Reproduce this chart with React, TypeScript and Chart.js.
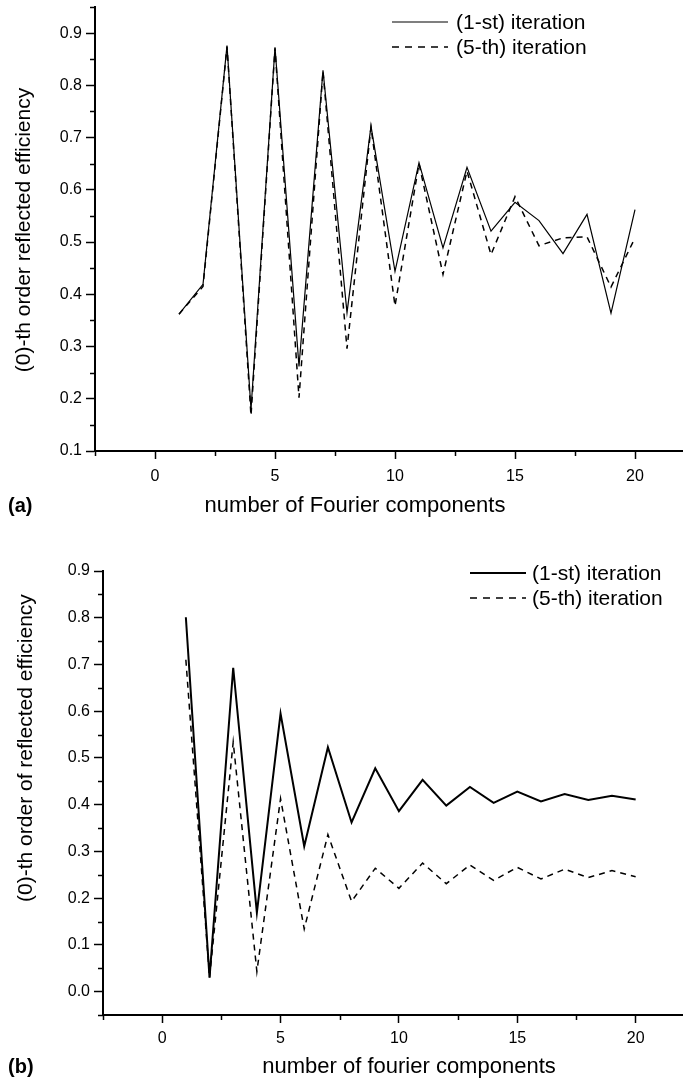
import React, { useEffect, useRef } from "react";
import { Chart, registerables } from "chart.js";

Chart.register(...registerables);

// ---------- data ----------
const components = [1, 2, 3, 4, 5, 6, 7, 8, 9, 10, 11, 12, 13, 14, 15, 16, 17, 18, 19, 20];

const topFirst = [0.362, 0.419, 0.876, 0.18, 0.873, 0.262, 0.829, 0.365, 0.722, 0.444, 0.652, 0.489, 0.643, 0.521, 0.576, 0.541, 0.478, 0.553, 0.364, 0.562];
const topFifth = [0.362, 0.415, 0.874, 0.168, 0.871, 0.202, 0.827, 0.296, 0.72, 0.378, 0.65, 0.438, 0.636, 0.476, 0.587, 0.493, 0.508, 0.51, 0.414, 0.508];

const bottomFirst = [0.801, 0.03, 0.693, 0.169, 0.595, 0.311, 0.523, 0.362, 0.478, 0.386, 0.453, 0.398, 0.438, 0.404, 0.428, 0.407, 0.423, 0.41, 0.419, 0.411];
const bottomFifth = [0.71, 0.03, 0.534, 0.043, 0.413, 0.134, 0.336, 0.193, 0.264, 0.221, 0.275, 0.231, 0.271, 0.238, 0.266, 0.241, 0.262, 0.244, 0.259, 0.246];

const seriesLabels = ["(1-st) iteration", "(5-th) iteration"];
const xTickLabels = [0, 5, 10, 15, 20];
const yTickLabelsTop = ["0.1", "0.2", "0.3", "0.4", "0.5", "0.6", "0.7", "0.8", "0.9"];
const yTickLabelsBottom = ["0.0", "0.1", "0.2", "0.3", "0.4", "0.5", "0.6", "0.7", "0.8", "0.9"];

const FONT = "'Liberation Sans', Arial, Helvetica, sans-serif";

const near = (a: number, b: number) => Math.abs(a - b) < 1e-6;
const isXMajor = (v: number) => xTickLabels.some((t) => near(t, v));
const yLabelFor = (v: number, list: string[]) => list.find((t) => near(parseFloat(t), v));

const decorPlugin = {
  id: "decor",
  afterDraw(chart: any, _args: any, opts: any) {
    const ctx = chart.ctx;
    const { left, bottom } = chart.chartArea;
    const xs = chart.scales.x;
    const ys = chart.scales.y;
    ctx.save();
    ctx.strokeStyle = "#000";
    ctx.lineWidth = 1.5;
    // minor ticks
    xs.ticks.forEach((t: any) => {
      if (!isXMajor(t.value)) {
        const px = Math.round(xs.getPixelForValue(t.value)) + 0.5;
        ctx.beginPath();
        ctx.moveTo(px, bottom);
        ctx.lineTo(px, bottom + 5);
        ctx.stroke();
      }
    });
    ys.ticks.forEach((t: any) => {
      if (!yLabelFor(t.value, opts.yLabels)) {
        const py = Math.round(ys.getPixelForValue(t.value)) + 0.5;
        ctx.beginPath();
        ctx.moveTo(left - 5, py);
        ctx.lineTo(left, py);
        ctx.stroke();
      }
    });
    // legend
    const L = opts.legend;
    chart.data.datasets.forEach((ds: any, i: number) => {
      const y = L.y + i * L.rowH;
      ctx.setLineDash(ds.borderDash ? [7, 6] : []);
      ctx.lineWidth = ds.borderWidth;
      ctx.strokeStyle = ds.borderColor;
      ctx.beginPath();
      ctx.moveTo(L.x, y);
      ctx.lineTo(L.x + L.lineLen, y);
      ctx.stroke();
      ctx.setLineDash([]);
      ctx.font = L.font;
      ctx.textBaseline = "middle";
      ctx.textAlign = "left";
      ctx.fillStyle = "#000";
      ctx.fillText(ds.label, L.x + L.lineLen + L.gap, y + 1);
    });
    ctx.restore();
  },
};

type PanelProps = {
  first: number[];
  fifth: number[];
  yMin: number;
  yMax: number;
  yLabels: string[];
  height: number;
  areaTop: number;
  areaBottom: number;
  areaLeft: number;
  solidWidth: number;
  dashWidth: number;
  legend: any;
  labelPad: number;
};

function Panel(p: PanelProps) {
  const ref = useRef<HTMLCanvasElement | null>(null);
  useEffect(() => {
    if (!ref.current) return;
    const chart = new Chart(ref.current, {
      type: "line",
      data: {
        datasets: [
          {
            label: seriesLabels[0],
            data: components.map((x, i) => ({ x, y: p.first[i] })),
            borderColor: "#000",
            borderWidth: p.solidWidth,
            pointRadius: 0,
            tension: 0,
            fill: false,
          },
          {
            label: seriesLabels[1],
            data: components.map((x, i) => ({ x, y: p.fifth[i] })),
            borderColor: "#000",
            borderWidth: p.dashWidth,
            borderDash: [6, 5],
            pointRadius: 0,
            tension: 0,
            fill: false,
          },
        ],
      },
      options: {
        responsive: false,
        animation: false,
        devicePixelRatio: 1,
        layout: { padding: { top: p.areaTop, left: 0, right: 0, bottom: 0 } },
        plugins: {
          legend: { display: false },
          tooltip: { enabled: false },
          decor: { yLabels: p.yLabels, legend: p.legend },
        } as any,
        scales: {
          x: {
            type: "linear",
            min: -2.5,
            max: 22,
            border: { display: true, color: "#000", width: 2 },
            grid: {
              drawOnChartArea: false,
              drawTicks: true,
              tickLength: 8,
              tickWidth: 1.5,
              tickColor: (c: any) => (c.tick && isXMajor(c.tick.value) ? "#000" : "rgba(0,0,0,0)"),
            },
            ticks: {
              stepSize: 2.5,
              includeBounds: false,
              autoSkip: false,
              maxRotation: 0,
              padding: p.labelPad,
              color: "#000",
              font: { family: FONT, size: 16 },
              callback: (v: any) => (isXMajor(Number(v)) ? String(Math.round(Number(v))) : ""),
            },
            afterFit: (s: any) => {
              s.height = p.height - p.areaBottom;
              s.paddingLeft = 0;
              s.paddingRight = 0;
            },
          },
          y: {
            type: "linear",
            min: p.yMin,
            max: p.yMax,
            border: { display: true, color: "#000", width: 2 },
            grid: {
              drawOnChartArea: false,
              drawTicks: true,
              tickLength: 9,
              tickWidth: 1.5,
              tickColor: (c: any) => (c.tick && yLabelFor(c.tick.value, p.yLabels) ? "#000" : "rgba(0,0,0,0)"),
            },
            ticks: {
              stepSize: 0.05,
              includeBounds: false,
              autoSkip: false,
              padding: 4,
              color: "#000",
              font: { family: FONT, size: 16 },
              callback: (v: any) => yLabelFor(Number(v), p.yLabels) || "",
            },
            afterFit: (s: any) => {
              s.width = p.areaLeft;
              s.paddingTop = 0;
              s.paddingBottom = 0;
            },
          },
        },
      },
      plugins: [decorPlugin as any],
    });
    return () => chart.destroy();
  }, []);
  return <canvas ref={ref} width={683} height={p.height} style={{ display: "block" }} />;
}

const textBase: React.CSSProperties = {
  position: "absolute",
  fontFamily: FONT,
  color: "#000",
  whiteSpace: "nowrap",
  lineHeight: 1,
};

export default function App() {
  return (
    <div style={{ position: "absolute", left: 0, top: 0, width: 683, height: 1088, background: "#fff", overflow: "hidden" }}>
      <div style={{ position: "absolute", left: 0, top: 0 }}>
        <Panel
          first={topFirst}
          fifth={topFifth}
          yMin={0.1}
          yMax={0.95}
          yLabels={yTickLabelsTop}
          height={540}
          areaTop={7}
          areaBottom={451}
          areaLeft={95}
          solidWidth={1.2}
          dashWidth={1.5}
          labelPad={8}
          legend={{ x: 392, y: 22, rowH: 25, lineLen: 56, gap: 8, font: `21px ${FONT}` }}
        />
      </div>
      <div style={{ position: "absolute", left: 0, top: 540 }}>
        <Panel
          first={bottomFirst}
          fifth={bottomFifth}
          yMin={-0.05}
          yMax={0.9}
          yLabels={yTickLabelsBottom}
          height={548}
          areaTop={31}
          areaBottom={475}
          areaLeft={103}
          solidWidth={2}
          dashWidth={1.5}
          labelPad={6}
          legend={{ x: 470, y: 33, rowH: 25, lineLen: 56, gap: 6, font: `21px ${FONT}` }}
        />
      </div>
      {/* axis titles */}
      <div style={{ ...textBase, left: 22, top: 230, fontSize: 21, transform: "translate(-50%, -50%) rotate(-90deg)" }}>
        (0)-th order reflected efficiency
      </div>
      <div style={{ ...textBase, left: 355, top: 505, fontSize: 22, transform: "translate(-50%, -50%)" }}>
        number of Fourier components
      </div>
      <div style={{ ...textBase, left: 8, top: 505, fontSize: 20, fontWeight: "bold", transform: "translateY(-50%)" }}>
        (a)
      </div>
      <div style={{ ...textBase, left: 24, top: 748, fontSize: 21, transform: "translate(-50%, -50%) rotate(-90deg)" }}>
        (0)-th order of reflected efficiency
      </div>
      <div style={{ ...textBase, left: 409, top: 1066, fontSize: 22, transform: "translate(-50%, -50%)" }}>
        number of fourier components
      </div>
      <div style={{ ...textBase, left: 8, top: 1066, fontSize: 20, fontWeight: "bold", transform: "translateY(-50%)" }}>
        (b)
      </div>
    </div>
  );
}
